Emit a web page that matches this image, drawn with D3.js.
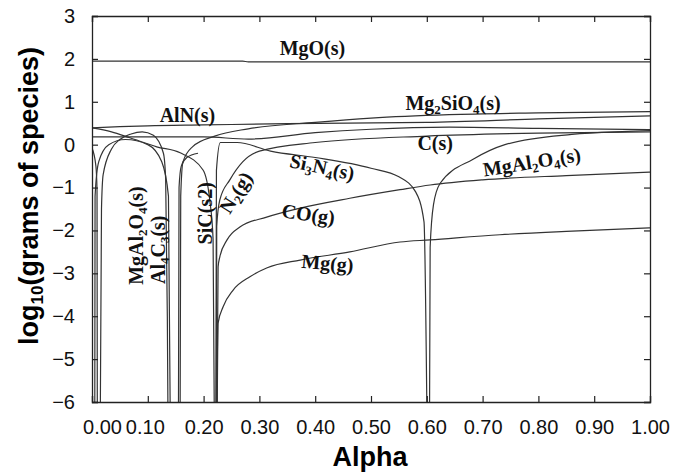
<!DOCTYPE html>
<html><head><meta charset="utf-8">
<script src="https://cdn.jsdelivr.net/npm/d3@7"></script>
<style>body{margin:0;background:#fff}svg{display:block}</style>
</head><body>
<script>
// ---- data (alpha, log10 grams) ----
const xTicks = [0,0.1,0.2,0.3,0.4,0.5,0.6,0.7,0.8,0.9,1.0];
const xTickLabels = ["0.00","0.10","0.20","0.30","0.40","0.50","0.60","0.70","0.80","0.90","1.00"];
const yTicks = [-6,-5,-4,-3,-2,-1,0,1,2,3];

const MgO = [[0,1.95],[0.27,1.95],[0.28,1.93],[1,1.93]];
const AlN = [[0,0.39],[0.05,0.42],[0.1,0.44],[0.2,0.46],[0.35,0.49],[0.6,0.52],[0.8,0.6],[1,0.67]];
const Mg2SiO4 = [[0.158,-6],[0.159,-1.2],[0.163,-0.4],[0.18,-0.05],[0.22,0.2],[0.28,0.37],[0.4,0.52],[0.5,0.62],[0.64,0.7],[0.8,0.74],[1,0.77]];
const Cs = [[0,0.18],[0.2,0.18],[0.28,0.13],[0.4,0.28],[0.5,0.36],[0.64,0.41],[0.8,0.38],[1,0.35]];
const SiC = [[0,0.39],[0.035,0.3],[0.068,0.16],[0.116,-0.05],[0.158,-0.19],[0.199,-0.59],[0.211,-1.29],[0.217,-2.2],[0.219,-6]];
const Si3N4 = [[0.222,-6],[0.223,-0.6],[0.23,0.05],[0.26,0.05],[0.32,-0.15],[0.4,-0.3],[0.5,-0.55],[0.55,-0.75],[0.58,-1.1],[0.595,-1.8],[0.6,-6]];
const MgAl2O4r = [[0.605,-6],[0.606,-2.4],[0.612,-1.4],[0.624,-0.9],[0.683,-0.34],[0.74,0.0],[0.86,0.24],[0.96,0.31],[1,0.33]];
const CO = [[0.224,-6],[0.226,-2.85],[0.229,-2.62],[0.242,-2.22],[0.265,-1.92],[0.313,-1.69],[0.373,-1.48],[0.462,-1.25],[0.552,-1.05],[0.606,-0.94],[0.7,-0.82],[0.85,-0.72],[1,-0.64]];
const Mg = [[0.2245,-6],[0.226,-4.16],[0.235,-3.78],[0.253,-3.39],[0.283,-3.08],[0.314,-2.87],[0.373,-2.69],[0.462,-2.5],[0.552,-2.27],[0.606,-2.22],[0.731,-2.1],[0.85,-2.02],[1,-1.94]];
const N2 = [[0.223,-6],[0.2235,-1.9],[0.229,-1.29],[0.247,-0.82],[0.27,-0.4],[0.3,-0.15],[0.4,0.05],[0.6,0.2],[0.8,0.27],[1,0.3]];
const MgAl2O4l = [[0.015,-6],[0.017,-1.5],[0.02,-0.7],[0.035,-0.1],[0.05,0.12],[0.07,0.25],[0.09,0.3],[0.11,0.22],[0.128,-0.2],[0.132,-0.8],[0.135,-4],[0.136,-6]];
const Al4C3 = [[0,-0.08],[0.007,-0.5],[0.009,-1.06],[0.0095,-6]];
const Al4C3b = [[0.155,-6],[0.156,-1.0],[0.16,-0.5],[0.17,-0.3],[0.19,-0.2]];
const Al4C3c = [[0.005,-6],[0.0055,-1.2],[0.012,-0.4],[0.03,0.0],[0.06,0.12],[0.1,0.0],[0.125,-0.4],[0.137,-1.2],[0.14,-6]];

const series = [MgO,AlN,Mg2SiO4,Cs,SiC,Si3N4,MgAl2O4r,CO,Mg,N2,MgAl2O4l,Al4C3,Al4C3b,Al4C3c];

const labels = [
  {a:0.395, v:2.1, r:0, parts:[["MgO(s)",0]]},
  {a:0.647, v:0.8, r:0, parts:[["Mg",0],["2",1],["SiO",0],["4",1],["(s)",0]]},
  {a:0.171, v:0.54, r:0, parts:[["AlN(s)",0]]},
  {a:0.615, v:-0.12, r:0, parts:[["C(s)",0]]},
  {a:0.79, v:-0.56, r:-9, parts:[["MgAl",0],["2",1],["O",0],["4",1],["(s)",0]]},
  {a:0.41, v:-0.68, r:12, parts:[["Si",0],["3",1],["N",0],["4",1],["(s)",0]]},
  {a:0.386, v:-1.78, r:8, parts:[["CO(g)",0]]},
  {a:0.421, v:-2.92, r:5, parts:[["Mg(g)",0]]},
  {a:0.268, v:-1.2, r:-58, parts:[["N",0],["2",1],["(g)",0]]},
  {a:0.215, v:-1.6, r:-90, parts:[["SiC(s2)",0]]},
  {a:0.131, v:-2.45, r:-90, parts:[["Al",0],["4",1],["C",0],["3",1],["(s)",0]]},
  {a:0.091, v:-2.12, r:-90, parts:[["MgAl",0],["2",1],["O",0],["4",1],["(s)",0]]}
];

// ---- drawing ----
const W=684,H=476;
const m={l:92,r:34,t:16,b:74};
const svg=d3.select("body").append("svg").attr("width",W).attr("height",H);
const x=d3.scaleLinear().domain([0,1]).range([m.l,W-m.r]);
const y=d3.scaleLinear().domain([-6,3]).range([H-m.b,m.t]);

const line=d3.line().x(d=>x(d[0])).y(d=>y(d[1])).curve(d3.curveMonotoneX);
const g=svg.append("g");
g.append("defs").append("clipPath").attr("id","clip").append("rect")
  .attr("x",m.l).attr("y",m.t).attr("width",x(1)-m.l).attr("height",y(-6)-m.t);
const lines=g.append("g").attr("clip-path","url(#clip)");
series.forEach(s=>{
  lines.append("path").attr("d",line(s)).attr("fill","none").attr("stroke","#333").attr("stroke-width",1.2);
});

// axes (ticks inward)
const font='Arial, "Liberation Sans", sans-serif';
const xa=d3.axisBottom(x).tickValues(xTicks).tickSize(-6).tickFormat((d,i)=>xTickLabels[i]).tickPadding(18);
const xg=svg.append("g").attr("transform",`translate(0,${y(-6)})`).call(xa);
xg.selectAll("text").attr("font-family",font).attr("font-size",20).attr("fill","#111")
  .attr("dx",(d,i)=>i===0?10:(i===1?-3:0));
const ya=d3.axisLeft(y).tickValues(yTicks).tickSize(-6).tickFormat(d3.format("d")).tickPadding(17);
const yg=svg.append("g").attr("transform",`translate(${m.l},0)`).call(ya);
yg.selectAll("text").attr("font-family",font).attr("font-size",20).attr("fill","#111");
svg.append("g").attr("transform",`translate(0,${m.t})`).call(d3.axisTop(x).tickValues(xTicks).tickSize(-6).tickFormat(""));
svg.append("g").attr("transform",`translate(${x(1)},0)`).call(d3.axisRight(y).tickValues(yTicks).tickSize(-6).tickFormat(""));
svg.selectAll(".domain").attr("stroke","#222").attr("stroke-width",1.3);
svg.selectAll(".tick line").attr("stroke","#222").attr("stroke-width",1.2);

// axis titles
svg.append("text").attr("x",370).attr("y",466).attr("text-anchor","middle")
  .attr("font-family",font).attr("font-weight","bold").attr("font-size",27).text("Alpha");
const yt=svg.append("text").attr("transform",`translate(38,196) rotate(-90)`).attr("text-anchor","middle")
  .attr("font-family",font).attr("font-weight","bold").attr("font-size",27);
yt.append("tspan").text("log");
yt.append("tspan").attr("font-size",17).attr("dy",5).text("10");
yt.append("tspan").attr("dy",-5).text("(grams of species)");

// curve labels
const lf='"Times New Roman","Liberation Serif",serif';
labels.forEach(L=>{
  const t=svg.append("text").attr("transform",`translate(${x(L.a)},${y(L.v)}) rotate(${L.r})`)
    .attr("text-anchor","middle").attr("font-family",lf).attr("font-weight","bold").attr("font-size",20).attr("fill","#111");
  let sub=0;
  L.parts.forEach(p=>{
    const ts=t.append("tspan").text(p[0]);
    if(p[1]&&!sub){ts.attr("dy",4).attr("font-size",13);sub=1;}
    else if(!p[1]&&sub){ts.attr("dy",-4);sub=0;}
    else if(p[1]) ts.attr("font-size",13);
  });
});
</script>
</body></html>
